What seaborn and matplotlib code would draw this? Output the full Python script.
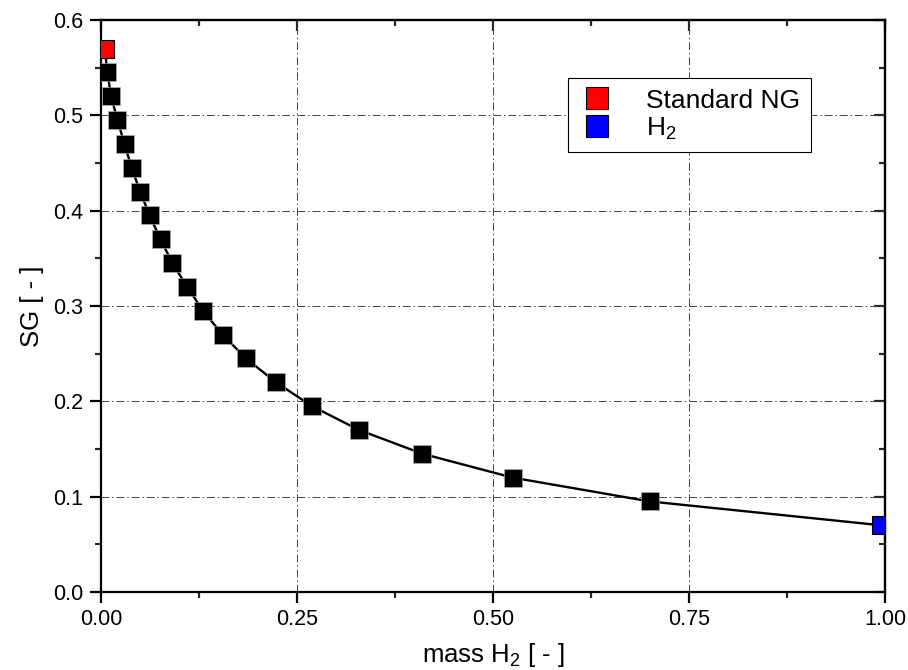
import matplotlib
matplotlib.use("Agg")
import matplotlib.pyplot as plt
from matplotlib.lines import Line2D
from matplotlib.ticker import MultipleLocator, FormatStrFormatter, NullFormatter
import seaborn as sns
import pandas as pd

# ---- data ----
mass_h2 = [0.005, 0.008, 0.013, 0.021, 0.030, 0.039, 0.050, 0.062, 0.076, 0.091,
           0.110, 0.130, 0.155, 0.185, 0.223, 0.269, 0.329, 0.410, 0.525, 0.700, 0.995]
sg = [0.570, 0.545, 0.520, 0.495, 0.470, 0.445, 0.420, 0.395, 0.370, 0.345,
      0.320, 0.295, 0.270, 0.245, 0.220, 0.195, 0.170, 0.145, 0.120, 0.095, 0.070]
legend_labels = ["Standard NG", "H$_2$"]
x_ticks = [0.00, 0.25, 0.50, 0.75, 1.00]
y_ticks = [0.0, 0.1, 0.2, 0.3, 0.4, 0.5, 0.6]

df = pd.DataFrame({"mass": mass_h2, "sg": sg})
ng = df.iloc[[0]]
h2 = df.iloc[[-1]]
mid = df.iloc[1:-1]

sns.set_style("ticks")
plt.rcParams["font.family"] = ["Liberation Sans", "DejaVu Sans"]
plt.rcParams["mathtext.fontset"] = "custom"
plt.rcParams["mathtext.rm"] = "Liberation Sans"
plt.rcParams["mathtext.it"] = "Liberation Sans"
plt.rcParams["text.color"] = "black"
plt.rcParams["axes.labelcolor"] = "black"

fig = plt.figure(figsize=(9.08, 6.70), dpi=100)
ax = fig.add_axes([101/908, 1-592/670, 784/908, 572/670])

# connecting line
sns.lineplot(data=df, x="mass", y="sg", color="black", linewidth=1.7,
             sort=False, ax=ax, zorder=3)
# squares
sns.scatterplot(data=mid, x="mass", y="sg", marker="s", s=150, color="black",
                edgecolor="#bbbbbb", linewidth=0.4, ax=ax, zorder=4)
sns.scatterplot(data=ng, x="mass", y="sg", marker="s", s=150, color="#ff0000",
                edgecolor="black", linewidth=0.8, ax=ax, zorder=5)
sns.scatterplot(data=h2, x="mass", y="sg", marker="s", s=150, color="#0000ff",
                edgecolor="black", linewidth=0.8, ax=ax, zorder=5)

ax.set_xlim(0, 1.0)
ax.set_ylim(0, 0.6)
ax.set_xticks(x_ticks)
ax.set_yticks(y_ticks)
ax.xaxis.set_major_formatter(FormatStrFormatter("%.2f"))
ax.yaxis.set_major_formatter(FormatStrFormatter("%.1f"))
ax.xaxis.set_minor_locator(MultipleLocator(0.125))
ax.yaxis.set_minor_locator(MultipleLocator(0.05))

ax.grid(True, which="major", color="#444444", linewidth=0.7,
        linestyle=(0, (8, 3, 1.5, 3)))
ax.set_axisbelow(True)

for sp in ax.spines.values():
    sp.set_linewidth(1.6)
    sp.set_color("black")

ax.tick_params(which="major", direction="out", length=8, width=1.6,
               labelsize=15.5, pad=4, colors="black")
ax.tick_params(which="minor", direction="out", length=4, width=1.6)
ax.tick_params(axis="y", which="major", pad=5)

# mirrored inward ticks on top/right (no labels)
top = ax.secondary_xaxis("top")
top.set_xticks(x_ticks)
top.xaxis.set_minor_locator(MultipleLocator(0.125))
top.xaxis.set_major_formatter(NullFormatter())
top.tick_params(which="major", direction="in", length=8, width=1.6, labeltop=False)
top.tick_params(which="minor", direction="in", length=4, width=1.6)
right = ax.secondary_yaxis("right")
right.set_yticks(y_ticks)
right.yaxis.set_minor_locator(MultipleLocator(0.05))
right.yaxis.set_major_formatter(NullFormatter())
right.tick_params(which="major", direction="in", length=8, width=1.6, labelright=False)
right.tick_params(which="minor", direction="in", length=4, width=1.6)
for s in (top, right):
    for sp in s.spines.values():
        sp.set_linewidth(1.6)

ax.set_xlabel("mass H$_2$ [ - ]", fontsize=18.5, labelpad=8)
ax.set_ylabel("SG [ - ]", fontsize=18.5, labelpad=6)

handles = [
    Line2D([], [], linestyle="none", marker="s", markersize=16,
           markerfacecolor="#ff0000", markeredgecolor="black", markeredgewidth=0.8),
    Line2D([], [], linestyle="none", marker="s", markersize=16,
           markerfacecolor="#0000ff", markeredgecolor="black", markeredgewidth=0.8),
]
leg = ax.legend(handles, legend_labels, loc="upper left",
                bbox_to_anchor=(0.5957, 0.8986), borderaxespad=0,
                fontsize=19, frameon=True, fancybox=False, framealpha=1,
                edgecolor="black", handletextpad=1.15, borderpad=0.4,
                labelspacing=0.12, handlelength=1.4)
leg.get_frame().set_linewidth(0.8)

fig.savefig("out.png", dpi=100)
